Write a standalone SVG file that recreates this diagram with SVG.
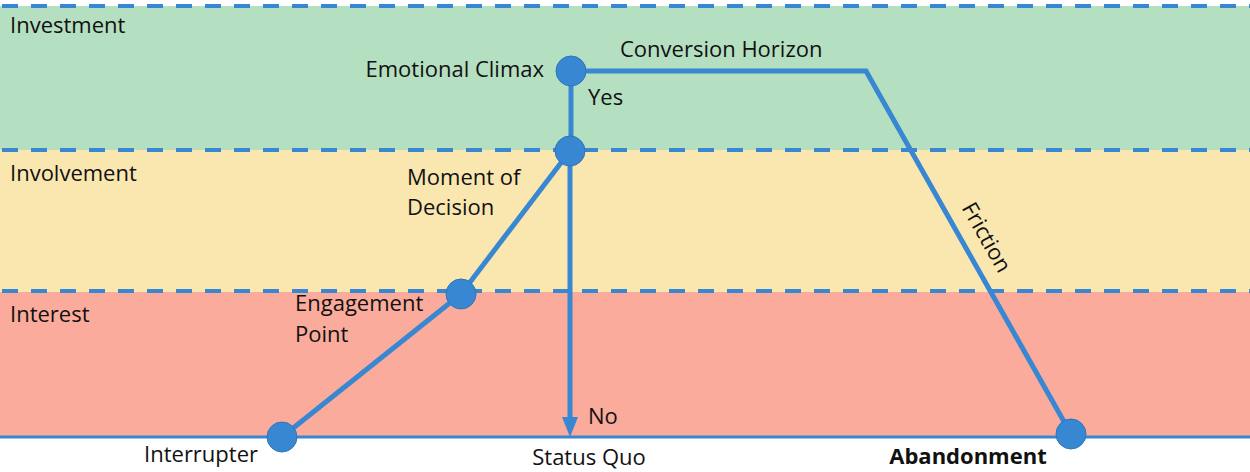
<svg xmlns="http://www.w3.org/2000/svg" width="1250" height="472" viewBox="0 0 1250 472">
<style>
.t{font-family:"Open Sans","Liberation Sans",sans-serif;font-size:22px;fill:#111}
.b{font-weight:bold}
.dash{stroke:#3787d3;stroke-width:4;stroke-dasharray:16 13;fill:none}
.ln{stroke:#3787d3;stroke-width:5;fill:none}
.nd{fill:#3787d3;stroke:#2f75b8;stroke-width:1}
</style>
<g id="bands">
<rect x="0" y="6" width="1250" height="144" fill="#b5dfc1"/>
<rect x="0" y="150" width="1250" height="142" fill="#fae7b0"/>
<rect x="0" y="292" width="1250" height="145" fill="#fbab9c"/>
<line class="dash" x1="2" y1="6" x2="1250" y2="6"/>
<line class="dash" x1="2" y1="150" x2="1250" y2="150"/>
<line class="dash" x1="2" y1="291" x2="1250" y2="291"/>
<line x1="0" y1="437" x2="1250" y2="437" stroke="#3787d3" stroke-width="3"/>
<text class="t" x="10" y="33">Investment</text>
<text class="t" x="10" y="181">Involvement</text>
<text class="t" x="10" y="322">Interest</text>
</g>
<g id="connectors">
<polyline class="ln" points="571,71 866,71 1071,434"/>
<line class="ln" x1="571" y1="71" x2="571" y2="151"/>
<line class="ln" x1="570" y1="151" x2="461" y2="294"/>
<line class="ln" x1="461" y1="294" x2="282" y2="437"/>
<line class="ln" x1="570" y1="151" x2="570" y2="420"/>
<polygon points="562,417 578,417 570,437" fill="#3787d3"/>
<text class="t" x="588" y="105">Yes</text>
<text class="t" x="588" y="424">No</text>
<text class="t" x="620" y="57">Conversion Horizon</text>
<text class="t" x="0" y="0" text-anchor="middle" transform="translate(980,241) rotate(60.5)">Friction</text>
</g>
<g id="emotional-climax">
<circle class="nd" cx="571" cy="71" r="15"/>
<text class="t" x="544" y="77" text-anchor="end">Emotional Climax</text>
</g>
<g id="moment-of-decision">
<circle class="nd" cx="570" cy="151" r="15"/>
<text class="t" x="407" y="185">Moment of</text>
<text class="t" x="407" y="215">Decision</text>
</g>
<g id="engagement-point">
<circle class="nd" cx="461" cy="294" r="15"/>
<text class="t" x="295" y="311">Engagement</text>
<text class="t" x="295" y="342">Point</text>
</g>
<g id="interrupter">
<circle class="nd" cx="282" cy="437" r="15"/>
<text class="t" x="258" y="462" text-anchor="end">Interrupter</text>
</g>
<g id="status-quo">
<text class="t" x="589" y="465" text-anchor="middle">Status Quo</text>
</g>
<g id="abandonment">
<circle class="nd" cx="1071" cy="434" r="15"/>
<text class="t b" x="968" y="464" text-anchor="middle">Abandonment</text>
</g>
</svg>
